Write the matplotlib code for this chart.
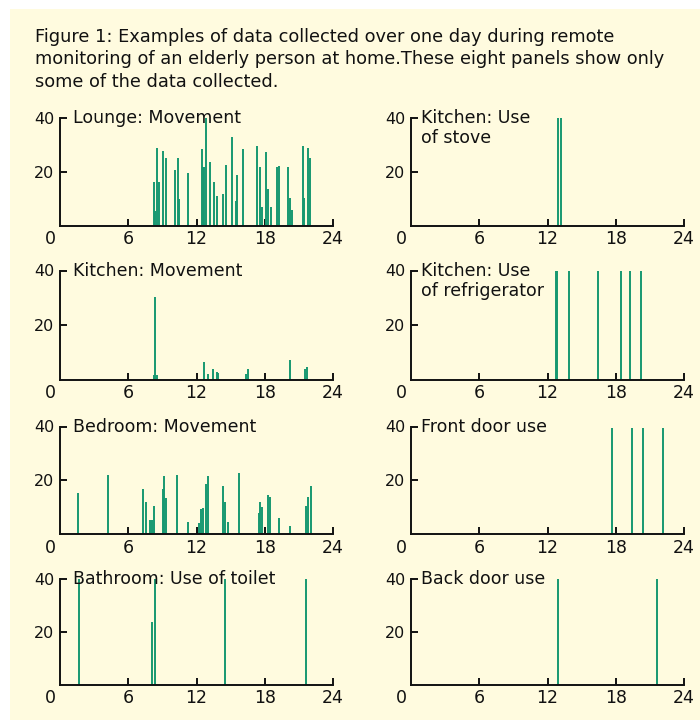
import matplotlib
matplotlib.use('Agg')
import matplotlib.pyplot as plt
from matplotlib.patches import Rectangle
from matplotlib.transforms import ScaledTranslation

# ---------------- data ----------------
title_lines = [
    "Figure 1: Examples of data collected over one day during remote",
    "monitoring of an elderly person at home.These eight panels show only",
    "some of the data collected.",
]
hour_ticks = [6, 12, 18, 24]
hour_labels = ["6", "12", "18", "24"]
origin_label = "0"
y_ticks = [20, 40]
y_labels = ["20", "40"]

lounge_t = [8.22, 8.36, 8.54, 8.71, 9.04, 9.36, 10.15, 10.33, 10.48, 11.27,
            12.5, 12.6, 12.68, 12.85, 13.2, 13.5, 13.82, 14.32, 14.61, 15.08,
            15.43, 15.58, 16.05, 17.3, 17.6, 17.78, 18.13, 18.28, 18.57, 19.07,
            19.22, 20.0, 20.19, 20.36, 21.33, 21.48, 21.8, 21.95]
lounge_v = [16.3, 5.4, 29, 16.3, 27.8, 25, 20.6, 25, 9.7, 19.7,
            28.4, 21.6, 21.6, 40, 23.8, 16.3, 11, 11.6, 22.4, 33.1,
            9, 18.8, 28.4, 29.7, 21.7, 7, 27.2, 13.7, 6.9, 21.6,
            22.2, 21.6, 10.3, 5.6, 29.7, 10.3, 29, 25]

kitchen_mov_t = [8.25, 8.39, 8.5, 12.68, 13.0, 13.47, 13.8, 13.9, 16.37, 16.52,
                 20.19, 21.57, 21.7]
kitchen_mov_v = [1.5, 30.2, 1.5, 6.6, 2, 3.9, 2.7, 2.4, 2.1, 3.9,
                 7.2, 3.9, 4.5]

bedroom_t = [1.56, 4.25, 7.28, 7.6, 7.92, 8.07, 8.25, 9.04, 9.18, 9.36,
             10.3, 11.27, 12.2, 12.38, 12.53, 12.85, 13.03, 14.29, 14.47, 14.79,
             15.7, 17.46, 17.6, 17.78, 18.28, 18.43, 19.22, 20.19, 21.6, 21.77,
             22.1]
bedroom_v = [15.4, 22, 16.6, 12, 5.2, 5.2, 10.6, 16.6, 21.4, 13.3,
             22, 4.6, 4, 9.2, 9.8, 18.6, 21.4, 18, 12, 4.6,
             22.6, 7.8, 11.8, 9.9, 14.5, 13.9, 5.8, 3.1, 10.4, 13.9,
             18]

toilet_t = [1.7, 8.07, 8.39, 14.47, 21.6]
toilet_v = [40, 23.8, 40, 40, 40]

stove_t = [12.91, 13.15]
stove_v = [40, 40]

fridge_t = [12.73, 12.85, 13.88, 16.4, 18.46, 19.28, 20.2]
fridge_v = [40, 40, 40, 40, 40, 40, 40]

front_door_t = [17.7, 19.42, 20.39, 22.12]
front_door_v = [39.5, 39.5, 39.5, 39.5]

back_door_t = [12.94, 21.66]
back_door_v = [40, 40]

panel_titles = [
    "Lounge: Movement", "Kitchen: Movement", "Bedroom: Movement",
    "Bathroom: Use of toilet",
    "Kitchen: Use\nof stove", "Kitchen: Use\nof refrigerator",
    "Front door use", "Back door use",
]
panel_times = [lounge_t, kitchen_mov_t, bedroom_t, toilet_t,
               stove_t, fridge_t, front_door_t, back_door_t]
panel_values = [lounge_v, kitchen_mov_v, bedroom_v, toilet_v,
                stove_v, fridge_v, front_door_v, back_door_v]

# ---------------- style ----------------
W, H = 700, 720
TEAL = "#179870"
CREAM = "#FFFBDF"

fig = plt.figure(figsize=(W / 100, H / 100), dpi=100, facecolor="white")
fig.patches.append(Rectangle((10 / W, 0), (W - 10) / W, (H - 9) / H,
                             transform=fig.transFigure, facecolor=CREAM,
                             edgecolor="none", zorder=-10))

for i, line in enumerate(title_lines):
    fig.text(35 / W, 1 - (37 + 22.5 * i) / H, line, ha="left", va="center",
             fontsize=12.8, color="#111111", family="DejaVu Sans")

col_x = [60, 411]
col_w = 273
rows = [(118, 225.5), (270.5, 379.5), (426.5, 534), (579, 684.5)]
label_dx = [13, 10]

for idx in range(8):
    col = idx // 4
    row = idx % 4
    top, bot = rows[row]
    ax = fig.add_axes([col_x[col] / W, 1 - bot / H, col_w / W, (bot - top) / H])
    ax.patch.set_alpha(0)
    ax.vlines(panel_times[idx], 0, panel_values[idx], colors=TEAL,
              linewidth=1.4, zorder=2)
    ax.set_xlim(0, 24)
    ax.set_ylim(0, 40)
    for s in ["top", "right"]:
        ax.spines[s].set_visible(False)
    for s in ["left", "bottom"]:
        ax.spines[s].set_linewidth(1.4)
        ax.spines[s].set_color("#111111")
        ax.spines[s].set_capstyle("projecting")
    ax.set_xticks(hour_ticks)
    ax.set_xticklabels(hour_labels, fontsize=12.5, color="#111111")
    ax.set_yticks(y_ticks)
    ax.set_yticklabels(y_labels, fontsize=11.5, color="#111111")
    ax.tick_params(direction="in", length=5, width=1.4, color="#111111")
    ax.tick_params(axis="y", pad=4)
    ax.tick_params(axis="x", pad=3.5)
    ax.text(0, 0, origin_label, fontsize=12.5, color="#111111",
            ha="center", va="top",
            transform=ax.transData + ScaledTranslation(-0.10, -3.5 / 72,
                                                       fig.dpi_scale_trans))
    for j, part in enumerate(panel_titles[idx].split("\n")):
        ax.text(0, 40, part, fontsize=12.5, color="#111111", ha="left",
                va="center",
                transform=ax.transData + ScaledTranslation(
                    label_dx[col] / 100, -0.20 * j, fig.dpi_scale_trans))

fig.savefig("out.png", dpi=100, facecolor="white")
